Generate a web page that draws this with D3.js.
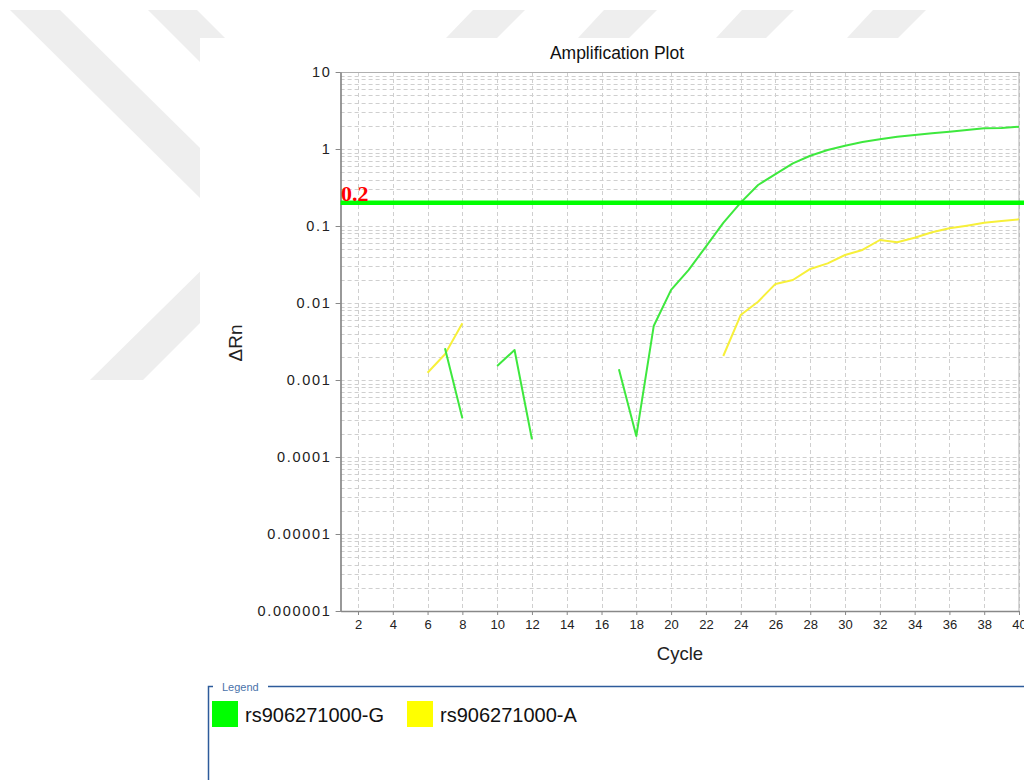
<!DOCTYPE html>
<html>
<head>
<meta charset="utf-8">
<script src="https://cdn.jsdelivr.net/npm/d3@7"></script>
<style>
  html, body { margin: 0; padding: 0; background: #fff; }
  svg { display: block; font-family: "Liberation Sans", Arial, Helvetica, sans-serif; }
</style>
</head>
<body>
<svg id="chart" width="1024" height="780"></svg>
<script>
// ---- data ----
const cycles = d3.range(1, 41);
const seriesNames = ["rs906271000-G", "rs906271000-A"];
const swatchColors = ["#00ff00", "#ffff00"];
const lineColors = ["#3ee83e", "#f7f03a"];
// ΔRn per cycle (null = not plotted on the log axis)
const valuesG = [null, null, null, null, null, null, 0.00258, 0.000318, null, 0.00152,
                 0.00245, 0.00017, null, null, null, null, 0.00138, 0.000187, 0.00502, 0.0148,
                 0.0268, 0.0539, 0.110, 0.201, 0.341, 0.473, 0.652, 0.818, 0.97, 1.10,
                 1.23, 1.34, 1.44, 1.52, 1.60, 1.68, 1.76, 1.86, 1.87, 1.95];
const valuesA = [null, null, null, null, null, 0.00124, 0.00216, 0.00545, null, null,
                 null, null, null, null, null, null, null, null, null, null,
                 null, null, 0.00205, 0.00698, 0.0104, 0.0177, 0.0199, 0.0277, 0.0327, 0.042,
                 0.0488, 0.0658, 0.0614, 0.0705, 0.0828, 0.0933, 0.101, 0.110, 0.116, 0.122];
const threshold = 0.2;
const xTicks = d3.range(2, 41, 2);
const yTicks = [1e-6, 1e-5, 1e-4, 1e-3, 1e-2, 1e-1, 1, 10];
const yTickLabels = ["0.000001", "0.00001", "0.0001", "0.001", "0.01", "0.1", "1", "10"];

const svg = d3.select("#chart");

// ---- faint background emblem behind the report panel ----
const emblem = [
  [[10,10],[60,10],[200,148],[200,198]],
  [[148,10],[197,10],[400,213],[351,213]],
  [[90,380],[143,380],[300,223],[300,173]],
  [[473,10],[525,10],[497,38],[446,38]],
  [[604,10],[657,10],[629,38],[578,38]],
  [[742,10],[794,10],[766,38],[716,38]],
  [[873,10],[926,10],[898,38],[847,38]]
];
svg.append("g").selectAll("polygon").data(emblem).join("polygon")
  .attr("points", d => d.map(p => p.join(",")).join(" "))
  .attr("fill", "#eeeeee");
svg.append("rect").attr("x", 200).attr("y", 38).attr("width", 824).attr("height", 742).attr("fill", "#fff");

// ---- scales ----
const x = d3.scaleLinear().domain([1, 40]).range([340.6, 1019]);
const y = d3.scaleLog().domain([1e-6, 10]).range([611, 72]);
const [x0, x1] = x.range();
const [yb, yt] = y.range();

// ---- grid ----
const minorY = [];
for (let e = -6; e <= 0; e++) for (let m = 1; m <= 9; m++) minorY.push(m * Math.pow(10, e));
minorY.push(10);
const grid = svg.append("g").attr("stroke", "#cfcfcf").attr("stroke-width", 1).attr("stroke-dasharray", "4,3");
grid.selectAll("line.h").data(minorY).join("line").attr("class", "h")
  .attr("x1", x0).attr("x2", x1)
  .attr("y1", d => Math.round(y(d)) + 0.5).attr("y2", d => Math.round(y(d)) + 0.5);
grid.selectAll("line.v").data(xTicks).join("line").attr("class", "v")
  .attr("y1", yt).attr("y2", yb)
  .attr("x1", d => Math.round(x(d)) + 0.5).attr("x2", d => Math.round(x(d)) + 0.5);

// plot frame
svg.append("rect").attr("x", x0).attr("y", yt + 0.5).attr("width", x1 - x0).attr("height", yb - yt)
  .attr("fill", "none").attr("stroke", "#b0b0b0");

// ---- axes ----
const yAxis = svg.append("g").attr("transform", `translate(${x0},0)`)
  .call(d3.axisLeft(y).tickValues(yTicks).tickFormat((d, i) => yTickLabels[i]).tickSize(5).tickSizeOuter(0).tickPadding(4));
yAxis.select(".domain").attr("stroke", "#888").attr("stroke-width", 1.5);
yAxis.selectAll(".tick line").attr("stroke", "#888");
yAxis.selectAll("text").attr("font-size", 14.5).attr("letter-spacing", "1.7px")
  .attr("font-family", "'Liberation Sans', Arial, sans-serif").attr("fill", "#222");

const xAxis = svg.append("g").attr("transform", `translate(0,${yb})`)
  .call(d3.axisBottom(x).tickValues(xTicks).tickFormat(d3.format("d")).tickSize(4).tickSizeOuter(0).tickPadding(5));
xAxis.select(".domain").attr("stroke", "#888").attr("stroke-width", 1.5);
xAxis.selectAll(".tick line").attr("stroke", "#888");
xAxis.selectAll("text").attr("font-size", 13)
  .attr("font-family", "'Liberation Sans', Arial, sans-serif").attr("fill", "#222");

// ---- titles ----
svg.append("text").attr("x", 617).attr("y", 59).attr("text-anchor", "middle")
  .attr("font-size", 17.5).attr("fill", "#111").text("Amplification Plot");
svg.append("text").attr("x", 680).attr("y", 660).attr("text-anchor", "middle")
  .attr("font-size", 18.5).attr("fill", "#222").text("Cycle");
svg.append("text").attr("transform", "translate(242,343) rotate(-90)").attr("text-anchor", "middle")
  .attr("font-size", 19).attr("fill", "#222").text("ΔRn");

// ---- amplification curves ----
const line = d3.line()
  .defined(d => d.v != null)
  .x(d => x(d.c))
  .y(d => y(d.v));
const series = [valuesG, valuesA].map((vals, i) => ({
  name: seriesNames[i],
  color: lineColors[i],
  points: cycles.map((c, j) => ({ c, v: vals[j] }))
}));
const plot = svg.append("g");
plot.selectAll("path").data(series.slice().reverse()).join("path")
  .attr("d", d => line(d.points))
  .attr("fill", "none")
  .attr("stroke", d => d.color)
  .attr("stroke-width", 2)
  .attr("stroke-linejoin", "round");

// ---- threshold ----
svg.append("line")
  .attr("x1", x0).attr("x2", 1024)
  .attr("y1", y(threshold)).attr("y2", y(threshold))
  .attr("stroke", "#00ff00").attr("stroke-width", 4.5);
svg.append("text").attr("x", 341).attr("y", 201)
  .attr("font-family", "'Liberation Serif', 'Times New Roman', serif")
  .attr("font-weight", "bold").attr("font-size", 22).attr("fill", "#ff0000")
  .text(String(threshold));

// ---- legend ----
const legendColor = "#2d5b9b";
svg.append("path").attr("d", "M213,686.5 H208.5 V780").attr("fill", "none").attr("stroke", legendColor).attr("stroke-width", 1.5);
svg.append("path").attr("d", "M268,686.5 H1024").attr("fill", "none").attr("stroke", legendColor).attr("stroke-width", 1.5);
svg.append("text").attr("x", 222).attr("y", 691).attr("font-size", 11).attr("fill", "#4a72aa").text("Legend");
const legendX = [212, 407];
const leg = svg.append("g").selectAll("g").data(seriesNames).join("g")
  .attr("transform", (d, i) => `translate(${legendX[i]},701)`);
leg.append("rect").attr("width", 26).attr("height", 26).attr("fill", (d, i) => swatchColors[i]);
leg.append("text").attr("x", 33).attr("y", 21).attr("font-size", 20).attr("fill", "#111").text(d => d);
</script>
</body>
</html>
